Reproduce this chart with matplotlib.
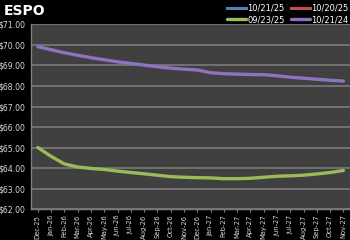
import matplotlib
matplotlib.use("Agg")
import matplotlib.pyplot as plt

months = ["Dec-25", "Jan-26", "Feb-26", "Mar-26", "Apr-26", "May-26", "Jun-26", "Jul-26",
          "Aug-26", "Sep-26", "Oct-26", "Nov-26", "Dec-26", "Jan-27", "Feb-27", "Mar-27",
          "Apr-27", "May-27", "Jun-27", "Jul-27", "Aug-27", "Sep-27", "Oct-27", "Nov-27"]

s_102125 = []  # not visible within axis range
s_102025 = []  # not visible within axis range
s_092325 = [65.00, 64.57, 64.20, 64.05, 63.98, 63.93, 63.85, 63.78, 63.72, 63.65, 63.58, 63.55,
            63.53, 63.52, 63.48, 63.48, 63.50, 63.55, 63.60, 63.62, 63.65, 63.71, 63.78, 63.88]
s_102124 = [69.92, 69.77, 69.62, 69.50, 69.38, 69.28, 69.18, 69.10, 69.02, 68.94, 68.87, 68.82,
            68.78, 68.65, 68.60, 68.58, 68.56, 68.55, 68.50, 68.43, 68.38, 68.33, 68.28, 68.24]

yticks = [62, 63, 64, 65, 66, 67, 68, 69, 70, 71]

fig = plt.figure(figsize=(3.5, 2.4), dpi=100, facecolor="black")
ax = fig.add_axes([0.089, 0.129, 0.911, 0.769])
ax.set_facecolor("#404040")

x = list(range(len(months)))
h1, = ax.plot(x[:len(s_102125)], s_102125, color="#4F81BD", lw=2.2, label="10/21/25")
h2, = ax.plot(x[:len(s_102025)], s_102025, color="#C0504D", lw=2.2, label="10/20/25")
h3, = ax.plot(x, s_092325, color="#9BBB59", lw=2.4, label="09/23/25", solid_capstyle="round", zorder=3)
h4, = ax.plot(x, s_102124, color="#8F72C2", lw=2.4, label="10/21/24", solid_capstyle="round", zorder=3)

ax.set_xlim(-0.5, len(months) - 0.5)
ax.set_ylim(62, 71)
ax.set_yticks(yticks)
ax.set_yticklabels([f"${v:.2f}" for v in yticks], color="#d9d9d9", fontsize=5.6)
ax.set_xticks(x)
ax.set_xticklabels(months, rotation=90, color="#d9d9d9", fontsize=4.9)
ax.tick_params(axis="y", length=0, pad=4)
ax.tick_params(axis="x", length=2.5, color="#808080", pad=1.5)
ax.grid(axis="y", color="#7a7a7a", lw=1.2)
ax.set_axisbelow(True)
for side in ["top", "right"]:
    ax.spines[side].set_visible(False)
for side in ["left", "bottom"]:
    ax.spines[side].set_color("#808080")
    ax.spines[side].set_linewidth(1.0)

fig.text(0.012, 0.955, "ESPO", color="white", fontsize=10, fontweight="bold", va="center", ha="left")

leg = fig.legend([h1, h3, h2, h4], ["10/21/25", "09/23/25", "10/20/25", "10/21/24"],
                 loc="upper right", bbox_to_anchor=(1.01, 1.005), ncol=2, frameon=False,
                 fontsize=6, handlelength=2.2, handletextpad=0.2, columnspacing=0.8,
                 labelspacing=0.3, borderaxespad=0.2)
for t in leg.get_texts():
    t.set_color("white")

fig.savefig("out.png", dpi=100, facecolor="black")
